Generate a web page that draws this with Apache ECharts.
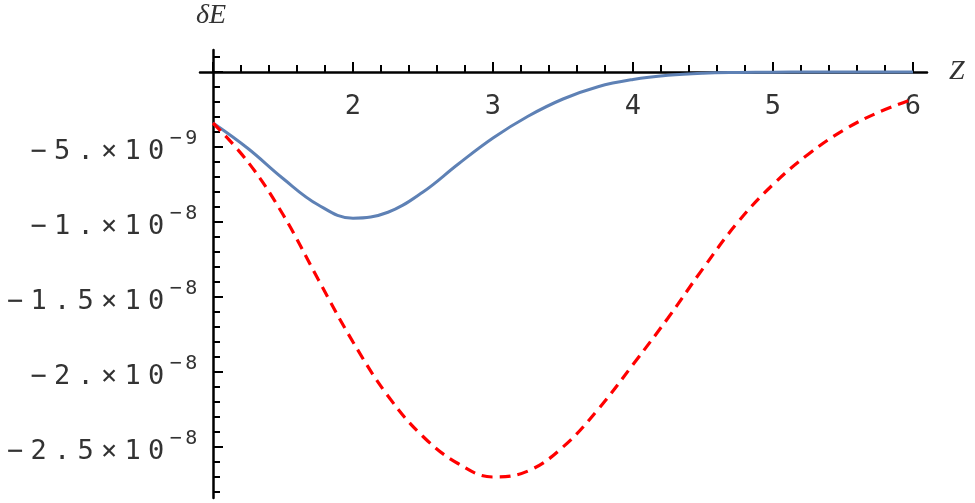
<!DOCTYPE html>
<html>
<head>
<meta charset="utf-8">
<script src="https://cdn.jsdelivr.net/npm/echarts@6/dist/echarts.min.js"></script>
<style>
html,body{margin:0;padding:0;background:#fff;}
#chart{width:975px;height:503px;}
</style>
</head>
<body>
<div id="chart"></div>
<script>
// ---- data ----
const zValues = [1, 1.25, 1.5, 1.75, 2, 2.25, 2.5, 2.75, 3, 3.25, 3.5, 3.75, 4, 4.25, 4.5, 4.75, 5, 5.25, 5.5, 5.75, 6];
const blueValues = [-3.4e-9, -5.1e-9, -7.1e-9, -8.85e-9, -9.75e-9, -9.35e-9, -8.0e-9, -6.15e-9, -4.4e-9, -2.95e-9, -1.8e-9, -0.98e-9, -0.5e-9, -0.22e-9, -0.08e-9, -0.03e-9, -0.01e-9, -0.005e-9, 0, 0, 0];
const redValues = [-3.4e-9, -6.0e-9, -9.5e-9, -13.8e-9, -18.0e-9, -21.6e-9, -24.3e-9, -26.1e-9, -27.0e-9, -26.6e-9, -25.0e-9, -22.5e-9, -19.5e-9, -16.4e-9, -13.1e-9, -10.0e-9, -7.5e-9, -5.5e-9, -3.9e-9, -2.7e-9, -1.8e-9];
const xTickValues = [2, 3, 4, 5, 6];
const xTickLabels = ['2', '3', '4', '5', '6'];
const yTickValues = [-5e-9, -1e-8, -1.5e-8, -2e-8, -2.5e-8];
const yTickMantissa = ['−5.', '−1.', '−1.5', '−2.', '−2.5'];
const yTickExponent = ['−9', '−8', '−8', '−8', '−8'];
const xAxisTitle = 'Z';
const yAxisTitle = 'δE';

// ---- layout (pixels) ----
const W = 975, H = 503;
const X1 = 213, X6 = 913;           // pixel of z=1 and z=6
const Y0 = 72;                      // pixel of value 0
const PXY = 15;                     // pixels per 1e-9
const PXX = (X6 - X1) / 5;
const axL = 200, axR = 927, axT = 50, axB = 498;

const monoFont = '"DejaVu Sans Mono", monospace';
function charRich(s, key) {
  return Array.from(s).map(c => '{' + key + '|' + c + '}').join('');
}
function yLabel(v) {
  for (let i = 0; i < yTickValues.length; i++) {
    if (Math.abs(v - yTickValues[i]) < 1e-12) {
      return charRich(yTickMantissa[i] + '×10', 'm') + charRich(yTickExponent[i], 's');
    }
  }
  return '';
}
function xLabel(v) {
  const i = xTickValues.findIndex(t => Math.abs(t - v) < 1e-9);
  return i >= 0 ? xTickLabels[i] : '';
}

const chart = echarts.init(document.getElementById('chart'), null, {renderer: 'canvas'});
const option = {
  animation: false,
  backgroundColor: '#ffffff',
  grid: [
    {left: axL, right: W - axR, top: axT, bottom: H - axB},
    {left: X1, right: W - X6, top: axT, bottom: H - axB},
    {left: X1, right: W - X6, top: 20, bottom: H - Y0},
    {left: X1, right: W - X6, top: Y0, bottom: H - (Y0 + 25 * PXY)},
    {left: X1, right: W - X6, top: Y0 - PXY, bottom: H - (Y0 + 28 * PXY)}
  ],
  xAxis: [
    {gridIndex: 0, type: 'value', min: 1 - (X1 - axL) / PXX, max: 6 + (axR - X6) / PXX,
     axisLine: {show: true, onZero: true, lineStyle: {color: '#000', width: 2.5}},
     axisTick: {show: false}, axisLabel: {show: false}, splitLine: {show: false}},
    {gridIndex: 1, type: 'value', min: 1, max: 6, show: false},
    {gridIndex: 2, type: 'value', min: 1, max: 6, interval: 1, position: 'bottom',
     axisLine: {show: false, onZero: false},
     axisTick: {show: true, inside: true, length: 10, lineStyle: {color: '#000', width: 2}},
     minorTick: {show: true, splitNumber: 5, length: 7, lineStyle: {color: '#000', width: 2}},
     axisLabel: {show: true, margin: 21, fontFamily: monoFont, fontSize: 27, color: '#333', formatter: xLabel},
     splitLine: {show: false}, minorSplitLine: {show: false}},
    {gridIndex: 3, type: 'value', min: 1, max: 6, show: false},
    {gridIndex: 4, type: 'value', min: 1, max: 6, show: false}
  ],
  yAxis: [
    {gridIndex: 0, type: 'value', min: -(axB - Y0) / PXY * 1e-9, max: (Y0 - axT) / PXY * 1e-9,
     axisLine: {show: false}, axisTick: {show: false}, axisLabel: {show: false}, splitLine: {show: false}},
    {gridIndex: 1, type: 'value', min: -(axB - Y0) / PXY * 1e-9, max: (Y0 - axT) / PXY * 1e-9,
     position: 'left',
     axisLine: {show: true, onZero: false, lineStyle: {color: '#000', width: 2.5}},
     axisTick: {show: false}, axisLabel: {show: false}, splitLine: {show: false}},
    {gridIndex: 2, type: 'value', min: 0, max: 1, show: false},
    {gridIndex: 3, type: 'value', min: -2.5e-8, max: 0, interval: 5e-9, position: 'left',
     axisLine: {show: false, onZero: false},
     axisTick: {show: true, inside: true, length: 10, lineStyle: {color: '#000', width: 2}},
     axisLabel: {show: true, margin: 14, formatter: yLabel, showMinLabel: true, showMaxLabel: true,
       rich: {
         m: {fontFamily: monoFont, fontSize: 27, color: '#333', width: 23.5, align: 'center', lineHeight: 28, padding: [10, 0, 0, 0]},
         s: {fontFamily: monoFont, fontSize: 20, color: '#333', width: 15.5, align: 'center', lineHeight: 20, padding: [0, 0, 16, 0]}
       }},
     splitLine: {show: false}},
    {gridIndex: 4, type: 'value', min: -2.8e-8, max: 1e-9, interval: 1e-9, position: 'left',
     axisLine: {show: false, onZero: false},
     axisTick: {show: true, inside: true, length: 7, lineStyle: {color: '#000', width: 2}},
     axisLabel: {show: false}, splitLine: {show: false}}
  ],
  graphic: [
    {type: 'text', left: 196, top: 2, style: {text: yAxisTitle, fontFamily: '"Liberation Serif", serif', fontStyle: 'italic', fontSize: 28, fill: '#333'}},
    {type: 'text', left: 949, top: 58, style: {text: xAxisTitle, fontFamily: '"Liberation Serif", serif', fontStyle: 'italic', fontSize: 28, fill: '#333'}}
  ],
  series: [
    {type: 'line', xAxisIndex: 0, yAxisIndex: 0, showSymbol: false, smooth: 0.4,
     data: zValues.map((z, i) => [z, blueValues[i]]),
     lineStyle: {color: '#5E81B5', width: 3}},
    {type: 'line', xAxisIndex: 0, yAxisIndex: 0, showSymbol: false, smooth: 0.4,
     data: zValues.map((z, i) => [z, redValues[i]]),
     lineStyle: {color: '#FF0000', width: 3.2, type: [11, 7]}}
  ]
};
chart.setOption(option);
</script>
</body>
</html>
